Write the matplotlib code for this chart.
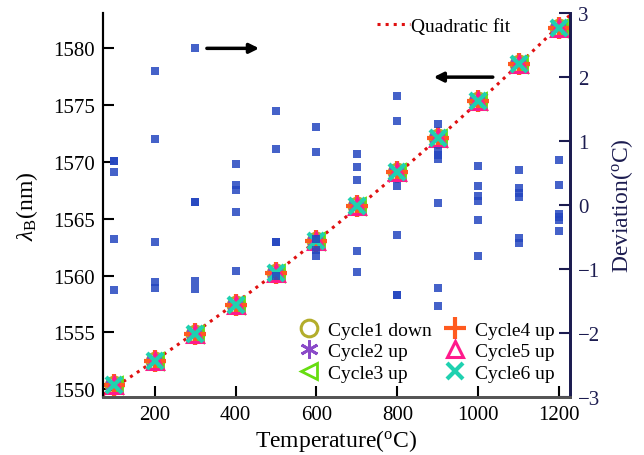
"""
Bragg wavelength vs temperature over six thermal cycles, with fit deviation
"""
import numpy as np
import matplotlib
matplotlib.use('Agg')
import matplotlib.pyplot as plt

plt.rcParams['font.family'] = ['Liberation Serif', 'DejaVu Serif']
plt.rcParams['mathtext.fontset'] = 'custom'
plt.rcParams['mathtext.rm'] = 'Liberation Serif'
plt.rcParams['mathtext.it'] = 'Liberation Serif:italic'

# --- Data
temp = [100, 200, 300, 400, 500, 600, 700, 800, 900, 1000, 1100, 1200]
lam  = [1550.38, 1552.48, 1554.82, 1557.37, 1560.24, 1563.0,
        1566.08, 1569.1, 1572.08, 1575.35, 1578.66, 1581.78]
cycles = ['Cycle1 down', 'Cycle2 up', 'Cycle3 up', 'Cycle4 up', 'Cycle5 up', 'Cycle6 up']

# deviation (degC) of every cycle at each temperature
dev_100  = [0.69, 0.69, 0.52, -0.53, -1.33]
dev_200  = [2.10, 1.04, -0.58, -1.20, -1.30]
dev_300  = [2.45, 0.05, 0.05, -1.18, -1.31]
dev_400  = [0.64, 0.31, 0.23, -0.11, -1.03]
dev_500  = [1.47, 0.88, -0.58, -0.58, -1.11]
dev_600  = [1.22, 0.83, -0.53, -0.70, -0.79]
dev_700  = [0.80, 0.60, 0.40, -0.71, -1.05]
dev_800  = [1.71, 1.31, 0.30, -0.47, -1.40, -1.40]
dev_900  = [1.27, 0.85, 0.78, 0.72, 0.04, -1.30, -1.57]
dev_1000 = [0.61, 0.30, 0.14, 0.06, -0.24, -0.79]
dev_1100 = [0.55, 0.27, 0.19, 0.12, -0.52, -0.59]
dev_1200 = [0.70, 0.31, -0.14, -0.19, -0.23, -0.40]
devs = [dev_100, dev_200, dev_300, dev_400, dev_500, dev_600,
        dev_700, dev_800, dev_900, dev_1000, dev_1100, dev_1200]

# --- Styles
styles = [dict(marker='o', color='#b3ad2b', mfc='none', ms=12, mew=2.2),
          dict(marker=(6, 2, 0), color='#8a4ac8', ms=13, mew=2.0),
          dict(marker='<', color='#66dd11', mfc='none', ms=12, mew=2.0),
          dict(marker='+', color='#ff5a1f', ms=16, mew=3.0),
          dict(marker='^', color='#ff1a8c', mfc='none', ms=12, mew=2.2),
          dict(marker='x', color='#1fd1b0', ms=12, mew=3.0)]
navy = '#1c1c50'

# --- Plot
fig = plt.figure(figsize=(6.44, 4.56), dpi=100)
ax = fig.add_axes([0.160, 0.127, 0.725, 0.842])
ax2 = ax.twinx()

xlim = (72, 1227)
coef = np.polyfit(temp, lam, 2)
xf = np.linspace(xlim[0], xlim[1], 200)
fit_line, = ax.plot(xf, np.polyval(coef, xf), ':', color='#e01010', lw=2.2, zorder=1)

handles = []
for lab, st in zip(cycles, styles):
    h, = ax.plot(temp, lam, ls='none', label=lab, zorder=2, **st)
    handles.append(h)

for t, d in zip(temp, devs):
    ax2.plot([t] * len(d), d, 's', color='#2446c0', ms=6, alpha=0.85, mew=0)

ax.set_xlim(*xlim)
ax.set_ylim(1549.3, 1583.1)
ax2.set_ylim(-3, 3)
ax.set_xticks([200, 400, 600, 800, 1000, 1200])
ax.set_yticks([1550, 1555, 1560, 1565, 1570, 1575, 1580])
ax2.set_yticks([-3, -2, -1, 0, 1, 2, 3])

ax.set_xlabel(r'Temperature($^{\rm o}$C)', fontsize=17, labelpad=2)
ax.set_ylabel(r'$\lambda_{\rm B}$(nm)', fontsize=17, labelpad=9)
ax2.set_ylabel(r'Deviation($^{\rm o}$C)', fontsize=17, color=navy, labelpad=6)

ax.tick_params(direction='in', length=8, width=1.5, labelsize=15, pad=6)
ax2.tick_params(direction='in', length=8, width=1.5, labelsize=15, colors=navy, pad=6)
for a in (ax, ax2):
    a.spines['top'].set_visible(False)
    a.spines['left'].set_linewidth(1.5)
    a.spines['bottom'].set_linewidth(2)
    a.spines['bottom'].set_color('#555555')
    a.spines['right'].set_linewidth(2)
    a.spines['right'].set_color(navy)

# arrows pointing to the relevant axis
ax.annotate('', xy=(465, 1580), xytext=(322, 1580),
            arrowprops=dict(arrowstyle='-|>', color='black', lw=2.5, mutation_scale=14))
ax2.annotate('', xy=(883, 2), xytext=(1043, 2),
             arrowprops=dict(arrowstyle='-|>', color='black', lw=2.5, mutation_scale=14))

leg1 = ax2.legend([fit_line], ['Quadratic fit'], loc='upper left', bbox_to_anchor=(0.55, 1.035),
                  frameon=False, fontsize=14, handlelength=1.7, handletextpad=0.05)
ax2.add_artist(leg1)
ax2.legend(handles, cycles, ncol=2, loc='lower right', bbox_to_anchor=(1.0, 0.0),
           frameon=False, fontsize=14, handlelength=1.2, handletextpad=0.4,
           columnspacing=0.6, labelspacing=0.2, borderpad=0.3)

fig.savefig('out.png', dpi=100)
